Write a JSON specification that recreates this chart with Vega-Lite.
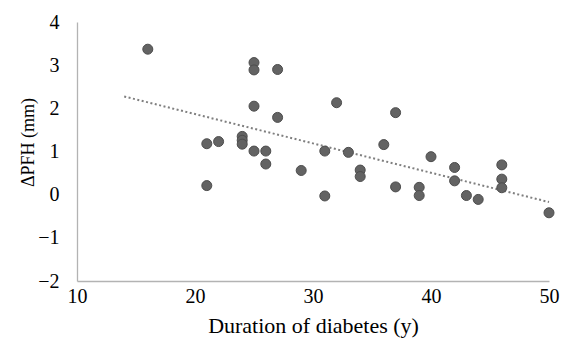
{
  "$schema": "https://vega.github.io/schema/vega-lite/v6.json",
  "width": 472,
  "height": 259,
  "autosize": {"type": "none"},
  "padding": {"left": 77, "top": 22, "right": 18, "bottom": 58},
  "background": "white",
  "config": {
    "view": {"stroke": null},
    "font": "Liberation Serif",
    "axis": {
      "grid": false,
      "ticks": false,
      "labelFlush": false,
      "labelOverlap": false,
      "domainColor": "#b3b3b3",
      "domainWidth": 1.3,
      "labelFont": "Liberation Serif",
      "labelFontSize": 20,
      "labelColor": "#000000",
      "titleFont": "Liberation Serif",
      "titleFontWeight": "normal",
      "titleColor": "#000000"
    }
  },
  "data": {
    "values": [
      {"duration": 16, "dpfh": 3.37},
      {"duration": 21, "dpfh": 1.18},
      {"duration": 21, "dpfh": 0.21},
      {"duration": 22, "dpfh": 1.23},
      {"duration": 24, "dpfh": 1.35},
      {"duration": 24, "dpfh": 1.26},
      {"duration": 24, "dpfh": 1.17},
      {"duration": 25, "dpfh": 3.06},
      {"duration": 25, "dpfh": 2.89},
      {"duration": 25, "dpfh": 2.05},
      {"duration": 25, "dpfh": 1.01},
      {"duration": 26, "dpfh": 1.01},
      {"duration": 26, "dpfh": 0.71},
      {"duration": 27, "dpfh": 2.9},
      {"duration": 27, "dpfh": 1.79},
      {"duration": 29, "dpfh": 0.56},
      {"duration": 31, "dpfh": 1.01},
      {"duration": 31, "dpfh": -0.03},
      {"duration": 32, "dpfh": 2.13},
      {"duration": 33, "dpfh": 0.98},
      {"duration": 34, "dpfh": 0.57},
      {"duration": 34, "dpfh": 0.42},
      {"duration": 36, "dpfh": 1.16},
      {"duration": 37, "dpfh": 1.9},
      {"duration": 37, "dpfh": 0.18},
      {"duration": 39, "dpfh": 0.17},
      {"duration": 39, "dpfh": -0.02},
      {"duration": 40, "dpfh": 0.88},
      {"duration": 42, "dpfh": 0.63},
      {"duration": 42, "dpfh": 0.32},
      {"duration": 43, "dpfh": -0.02},
      {"duration": 44, "dpfh": -0.11},
      {"duration": 46, "dpfh": 0.69},
      {"duration": 46, "dpfh": 0.36},
      {"duration": 46, "dpfh": 0.16},
      {"duration": 50, "dpfh": -0.42}
    ]
  },
  "encoding": {
    "x": {
      "field": "duration", "type": "quantitative",
      "scale": {"domain": [10, 50], "nice": false, "zero": false},
      "axis": {
        "values": [10, 20, 30, 40, 50],
        "labelBaseline": "alphabetic", "labelPadding": 21,
        "title": "Duration of diabetes (y)", "titleFontSize": 22,
        "titleBaseline": "alphabetic", "titleY": 51
      }
    },
    "y": {
      "field": "dpfh", "type": "quantitative",
      "scale": {"domain": [-2, 4], "nice": false, "zero": false},
      "axis": {
        "values": [-2, -1, 0, 1, 2, 3, 4], "labelPadding": 18,
        "title": "ΔPFH (mm)", "titleFontSize": 18,
        "titleBaseline": "alphabetic", "titleX": -44, "titleY": 120, "titleAlign": "center", "titleAngle": 270
      }
    }
  },
  "layer": [
    {
      "transform": [{"regression": "dpfh", "on": "duration", "extent": [14, 50]}],
      "mark": {"type": "line", "color": "#7f7f7f", "strokeWidth": 2, "strokeDash": [2, 2.5]}
    },
    {
      "mark": {"type": "circle", "size": 100, "color": "#636363", "opacity": 1, "stroke": "#4d4d4d", "strokeWidth": 1}
    }
  ]
}
